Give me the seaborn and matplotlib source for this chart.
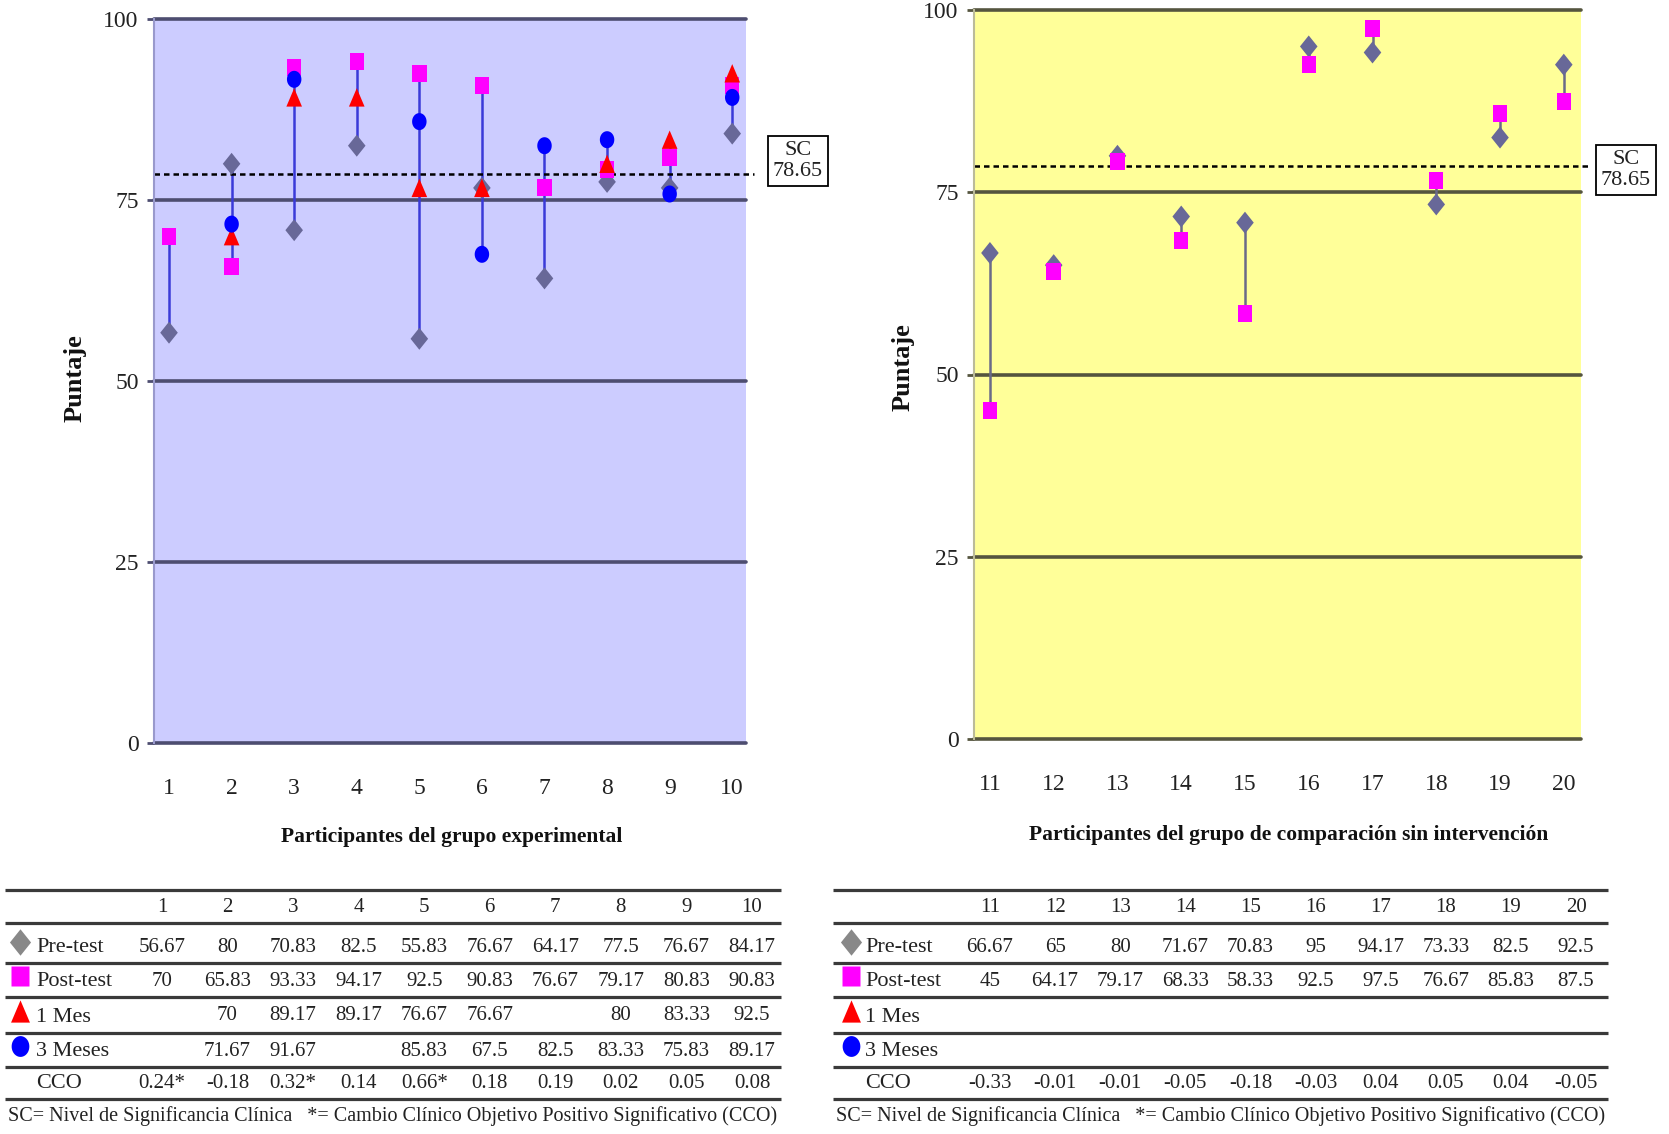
import numpy as np
import pandas as pd
import matplotlib
matplotlib.use("Agg")
import matplotlib.pyplot as plt
import seaborn as sns

# ---------------- data ----------------
part_exp = [1, 2, 3, 4, 5, 6, 7, 8, 9, 10]
pre_exp = [56.67, 80, 70.83, 82.5, 55.83, 76.67, 64.17, 77.5, 76.67, 84.17]
post_exp = [70, 65.83, 93.33, 94.17, 92.5, 90.83, 76.67, 79.17, 80.83, 90.83]
mes1_exp = [np.nan, 70, 89.17, 89.17, 76.67, 76.67, np.nan, 80, 83.33, 92.5]
mes3_exp = [np.nan, 71.67, 91.67, np.nan, 85.83, 67.5, 82.5, 83.33, 75.83, 89.17]
cco_exp = ["0.24*", "-0.18", "0.32*", "0.14", "0.66*", "0.18", "0.19", "0.02", "0.05", "0.08"]

part_cmp = [11, 12, 13, 14, 15, 16, 17, 18, 19, 20]
pre_cmp = [66.67, 65, 80, 71.67, 70.83, 95, 94.17, 73.33, 82.5, 92.5]
post_cmp = [45, 64.17, 79.17, 68.33, 58.33, 92.5, 97.5, 76.67, 85.83, 87.5]
mes1_cmp = [np.nan] * 10
mes3_cmp = [np.nan] * 10
cco_cmp = ["-0.33", "-0.01", "-0.01", "-0.05", "-0.18", "-0.03", "0.04", "0.05", "0.04", "-0.05"]

sc_value = 78.65
y_ticks = [0, 25, 50, 75, 100]
series_names = ["Pre-test", "Post-test", "1 Mes", "3 Meses"]
xlabel_exp = "Participantes del grupo experimental"
xlabel_cmp = "Participantes del grupo de comparación sin intervención"
ylabel = "Puntaje"
footnote = "SC= Nivel de Significancia Clínica   *= Cambio Clínico Objetivo Positivo Significativo (CCO)"

# ---------------- style ----------------
sns.set_theme(style="white")
plt.rcParams["font.family"] = ["Liberation Serif", "DejaVu Serif"]

W, H = 1669, 1134
fig = plt.figure(figsize=(W / 100, H / 100), dpi=100)
fig.patch.set_facecolor("white")

overlay = fig.add_axes([0, 0, 1, 1])
overlay.set_xlim(0, W)
overlay.set_ylim(H, 0)
overlay.axis("off")


def rect(x0, y0, x1, y1):
    return [x0 / W, 1 - y1 / H, (x1 - x0) / W, (y1 - y0) / H]


c_pre = "#686898"
c_post = "#FF00FF"
c_m1 = "#FF0000"
c_m3 = "#0000FF"

# slightly tall marker shapes (the reference is vertically stretched)
m_diamond = [(0, 1), (0.8, 0), (0, -1), (-0.8, 0), (0, 1)]
m_square = [(-0.85, -1), (0.85, -1), (0.85, 1), (-0.85, 1), (-0.85, -1)]
m_tri = [(0, 1), (0.85, -1), (-0.85, -1), (0, 1)]
_t = np.linspace(0, 2 * np.pi, 40)
m_circle = list(zip(0.85 * np.cos(_t), np.sin(_t)))

styles = [(m_diamond, c_pre, 250), (m_square, c_post, 150), (m_tri, c_m1, 175),
          (m_circle, c_m3, 150)]


def draw_panel(ax, parts, series, bg, gridc, spinec, connc, xlim):
    ax.set_facecolor(bg)
    ax.set_xlim(*xlim)
    ax.set_ylim(0, 100)
    for v in y_ticks:
        ax.axhline(v, color=gridc, lw=2.6, zorder=1, clip_on=False)
    # connector lines (min to max of each participant)
    arr = np.array(series, dtype=float)
    lows = np.nanmin(arr, axis=0)
    highs = np.nanmax(arr, axis=0)
    ax.vlines(parts, lows, highs, color=connc, lw=1.8, zorder=2)
    # SC dashed line
    ax.axhline(sc_value, xmin=0, xmax=1.013, color="black", lw=1.8,
               ls=(0, (2.2, 1.6)), zorder=2.5, clip_on=False)
    for k, (vals, (mk, col, s)) in enumerate(zip(series, styles)):
        df = pd.DataFrame({"p": parts, "v": vals}).dropna()
        if len(df):
            sns.scatterplot(data=df, x="p", y="v", marker=mk, color=col, s=s,
                            edgecolor="none", linewidth=0, ax=ax, zorder=3 + k,
                            legend=False)
    ax.set_xticks(parts)
    ax.set_xticklabels([str(p) for p in parts])
    ax.set_yticks(y_ticks)
    ax.set_yticklabels([str(v) for v in y_ticks])
    ax.tick_params(axis="x", length=0, pad=25, labelsize=17, colors="#222222")
    ax.tick_params(axis="y", length=5, width=2, color=gridc, pad=6, labelsize=17,
                   labelcolor="#222222", left=True)
    ax.set_xlabel("")
    ax.set_ylabel("")
    for sp in ["top", "right", "bottom"]:
        ax.spines[sp].set_visible(False)
    ax.spines["left"].set_color(spinec)
    ax.spines["left"].set_linewidth(1.5)


axL = fig.add_axes(rect(154, 19, 746, 743))
draw_panel(axL, part_exp, [pre_exp, post_exp, mes1_exp, mes3_exp],
           "#CCCCFF", "#4D4D70", "#9999CC", "#3A3AD8", (0.76, 10.22))

axR = fig.add_axes(rect(974, 10, 1581, 739))
draw_panel(axR, part_cmp, [pre_cmp, post_cmp, mes1_cmp, mes3_cmp],
           "#FFFF99", "#55553F", "#BBBB99", "#6A6A88", (10.75, 20.27))

# axis labels
overlay.text(452, 837, xlabel_exp, ha="center", va="center", fontsize=15.5,
             fontweight="bold", color="#111111")
overlay.text(1289, 835, xlabel_cmp, ha="center", va="center", fontsize=15.5,
             fontweight="bold", color="#111111")
overlay.text(75, 378, ylabel, ha="center", va="center", rotation=90, fontsize=19,
             fontweight="bold", color="#111111")
overlay.text(903, 367, ylabel, ha="center", va="center", rotation=90, fontsize=19,
             fontweight="bold", color="#111111")

# SC boxes
for (cx, cy) in [(798, 161), (1626, 170)]:
    overlay.text(cx, cy, f"SC\n{sc_value:.2f}", ha="center", va="center",
                 fontsize=16, linespacing=1.1, color="#222222",
                 bbox=dict(boxstyle="square,pad=0.22", fc="white", ec="black", lw=1.3))

# ---------------- tables ----------------
rule_y = [890, 923, 963, 997, 1033, 1067, 1099]
row_y = [946, 980, 1015, 1050, 1083]
head_y = 907
foot_y = 1116


def fmt(v):
    if v is None or (isinstance(v, float) and np.isnan(v)):
        return ""
    return f"{v:g}"


def draw_table(x0, x1, col_x, parts, series, cco, mk_x, txt_x, cco_x):
    overlay.hlines(rule_y, x0, x1, color="#3A3A3A", lw=2.3)
    for cx, p in zip(col_x, parts):
        overlay.text(cx, head_y, str(p), ha="center", va="center", fontsize=15,
                     color="#222222")
    glyphs = [(m_diamond, "#888888", 19), (m_square, "#FF00FF", 15),
              (m_tri, "#FF0000", 16), (m_circle, "#0000FF", 15)]
    for name, vals, (mk, col, ms), ry in zip(series_names, series, glyphs, row_y):
        overlay.plot([mk_x], [ry - 4], marker=mk, color=col, ms=ms, mec="none",
                     ls="none")
        overlay.text(txt_x, ry + 2, name, ha="left", va="center", fontsize=16,
                     color="#222222")
        for cx, v in zip(col_x, vals):
            overlay.text(cx, ry + 1, fmt(v), ha="center", va="center", fontsize=15,
                         color="#222222")
    overlay.text(cco_x, row_y[4], "CCO", ha="center", va="center", fontsize=16,
                 color="#222222")
    for cx, c in zip(col_x, cco):
        overlay.text(cx, row_y[4], c, ha="center", va="center", fontsize=15,
                     color="#222222")
    overlay.text((x0 + x1) / 2, foot_y, footnote, ha="center", va="center",
                 fontsize=14.5, color="#222222")


draw_table(5, 781, np.linspace(162, 752, 10), part_exp,
           [pre_exp, post_exp, mes1_exp, mes3_exp], cco_exp, 20, 36, 59)
draw_table(833, 1608, np.linspace(990, 1576, 10), part_cmp,
           [pre_cmp, post_cmp, mes1_cmp, mes3_cmp], cco_cmp, 851, 865, 888)

fig.savefig("out.png", dpi=100)
